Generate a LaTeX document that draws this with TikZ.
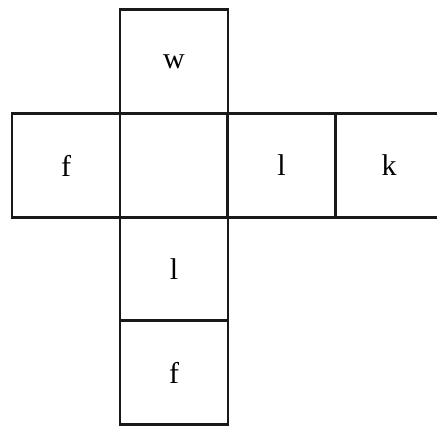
\documentclass[tikz,border=0pt]{standalone}
\usepackage{fontspec}
\setmainfont{Liberation Serif}
\begin{document}
\begin{tikzpicture}[x=1pt,y=-1pt,
  face/.style={draw=black!90, line width=2.4pt, minimum width=108pt, minimum height=104pt,
    inner sep=0pt, outer sep=0pt, font=\fontsize{30}{30}\selectfont, text depth=0pt}]
\useasboundingbox (0,0) rectangle (437,426);
\clip (0,0) rectangle (437,426);
\node[face] (top) at (174,61.5) {w};
\node[face] (left) at (66,165.5) {f};
\node[face] (mid) at (174,165.5) {};
\node[face] (right) at (281.5,165.5) {l};
\node[face] (far) at (389,165.5) {k};
\node[face] (bot) at (174,269) {l};
\node[face] (low) at (174,372.5) {f};
\end{tikzpicture}
\end{document}
